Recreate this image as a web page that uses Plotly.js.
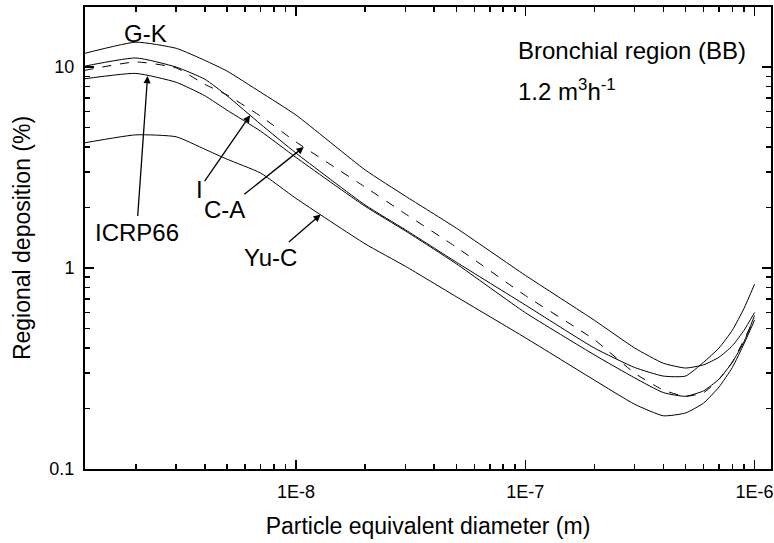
<!DOCTYPE html>
<html>
<head>
<meta charset="utf-8">
<script src="https://cdn.plot.ly/plotly-3.0.1.min.js"></script>
<style>html,body{margin:0;padding:0;background:#fff;}#chart{width:774px;height:543px;}</style>
</head>
<body>
<div id="chart"></div>
<script>
// Particle equivalent diameter (m)
const diameter = [1e-9, 2e-9, 3e-9, 4e-9, 5e-9, 7e-9, 1e-8, 2e-8, 3e-8, 5e-8, 1e-7, 2e-7, 3e-7, 4e-7, 5e-7, 6e-7, 7e-7, 8e-7, 9e-7, 1e-6];
// Regional deposition (%) per model
const gk    = [11.1, 13.3, 12.4, 10.8, 9.55, 7.5, 5.77, 3.08, 2.28, 1.58, 0.92, 0.55, 0.40, 0.336, 0.318, 0.33, 0.36, 0.41, 0.49, 0.60];
const iMod  = [9.7, 11.1, 10.0, 8.7, 7.2, 5.2, 3.73, 2.06, 1.55, 1.07, 0.655, 0.40, 0.32, 0.29, 0.29, 0.34, 0.40, 0.49, 0.63, 0.83];
const ca    = [9.25, 10.6, 9.9, 8.2, 7.26, 5.7, 4.24, 2.53, 1.86, 1.27, 0.73, 0.44, 0.30, 0.247, 0.23, 0.24, 0.28, 0.34, 0.44, 0.56];
const icrp  = [8.5, 9.3, 8.4, 7.2, 6.1, 4.8, 3.55, 2.03, 1.53, 1.05, 0.60, 0.37, 0.284, 0.24, 0.23, 0.245, 0.28, 0.34, 0.43, 0.58];
const yuc   = [4.05, 4.6, 4.5, 3.9, 3.48, 2.97, 2.22, 1.32, 1.02, 0.72, 0.45, 0.277, 0.21, 0.184, 0.19, 0.213, 0.256, 0.32, 0.42, 0.55];

const xTickVals = [1e-8, 1e-7, 1e-6];
const xTickText = ['1E-8', '1E-7', '1E-6'];
const yTickVals = [0.1, 1, 10];
const yTickText = ['0.1', '1', '10'];

const minorVals = [];
[1e-9, 1e-8, 1e-7, 1e-6].forEach(d => { for (let k = 2; k <= 9; k++) minorVals.push(k * d); });
const yMinorVals = [];
[0.1, 1, 10].forEach(d => { for (let k = 2; k <= 9; k++) yMinorVals.push(k * d); });

function valAt(series, xd) {
  const lx = Math.log10(xd);
  for (let j = 0; j < diameter.length - 1; j++) {
    const a = Math.log10(diameter[j]), b = Math.log10(diameter[j + 1]);
    if (lx >= a && lx <= b) {
      const t = (lx - a) / (b - a);
      return Math.log10(series[j]) * (1 - t) + Math.log10(series[j + 1]) * t;
    }
  }
  return Math.log10(series[series.length - 1]);
}

const line = (y, dash) => ({
  x: diameter, y: y, type: 'scatter', mode: 'lines',
  line: {color: '#000', width: 1, dash: dash || 'solid', shape: 'spline', smoothing: 0.5},
  showlegend: false, hoverinfo: 'skip'
});

const data = [line(gk), line(iMod), line(ca, 'dash'), line(icrp), line(yuc)];

const font = {family: '"Liberation Sans", Arial, sans-serif', color: '#000'};
const arrowAnn = (text, series, xd, ax, ay) => ({
  x: Math.log10(xd), y: valAt(series, xd), xref: 'x', yref: 'y', text: text,
  showarrow: true, arrowhead: 2, arrowsize: 1.1, arrowwidth: 1.3, arrowcolor: '#000',
  ax: ax, ay: ay, standoff: 0, startstandoff: 1,
  font: Object.assign({size: 24}, font)
});

const layout = {
  width: 774, height: 543,
  margin: {l: 85, r: 3, t: 7, b: 74},
  paper_bgcolor: '#fff', plot_bgcolor: '#fff',
  font: font,
  xaxis: {
    type: 'log', range: [Math.log10(1.2e-9), Math.log10(1.18e-6)],
    tickmode: 'array', tickvals: xTickVals, ticktext: xTickText,
    ticks: 'inside', ticklen: 9, tickwidth: 1.5, tickcolor: '#000',
    minor: {tickmode: 'array', tickvals: minorVals, ticks: 'inside', ticklen: 5, tickwidth: 1.5, tickcolor: '#000', showgrid: false},
    showline: true, linewidth: 2, linecolor: '#000', mirror: 'ticks',
    showgrid: false, zeroline: false,
    tickfont: Object.assign({size: 18}, font), ticklabelstandoff: 5,
    title: {text: 'Particle equivalent diameter (m)', font: Object.assign({size: 23}, font), standoff: 17}
  },
  yaxis: {
    type: 'log', range: [-1, 1.299],
    tickmode: 'array', tickvals: yTickVals, ticktext: yTickText,
    ticks: 'inside', ticklen: 9, tickwidth: 1.5, tickcolor: '#000',
    minor: {tickmode: 'array', tickvals: yMinorVals, ticks: 'inside', ticklen: 5, tickwidth: 1.5, tickcolor: '#000', showgrid: false},
    showline: true, linewidth: 2, linecolor: '#000', mirror: 'ticks',
    showgrid: false, zeroline: false,
    tickfont: Object.assign({size: 18}, font), ticklabelstandoff: 5,
    title: {text: 'Regional deposition (%)', font: Object.assign({size: 23}, font), standoff: 12}
  },
  annotations: [
    {x: Math.log10(2.2e-9), y: valAt(gk, 2.2e-9), xref: 'x', yref: 'y', text: 'G-K', showarrow: false,
     yanchor: 'middle', yshift: 10, font: Object.assign({size: 24}, font)},
    arrowAnn('ICRP66', icrp, 2.25e-9, -11, 156),
    arrowAnn('I', iMod, 6.3e-9, -51, 74),
    arrowAnn('C-A', ca, 1.08e-8, -79, 63),
    arrowAnn('Yu-C', yuc, 1.28e-8, -50, 43),
    {x: 0.628, y: 0.905, xref: 'paper', yref: 'paper', xanchor: 'left', yanchor: 'middle', showarrow: false,
     text: 'Bronchial region (BB)', font: Object.assign({size: 24}, font)},
    {x: 0.628, y: 0.82, xref: 'paper', yref: 'paper', xanchor: 'left', yanchor: 'middle', showarrow: false,
     text: '1.2 m<sup>3</sup>h<sup>-1</sup>', font: Object.assign({size: 24}, font)}
  ]
};

Plotly.newPlot('chart', data, layout, {staticPlot: true, displayModeBar: false});
</script>
</body>
</html>
